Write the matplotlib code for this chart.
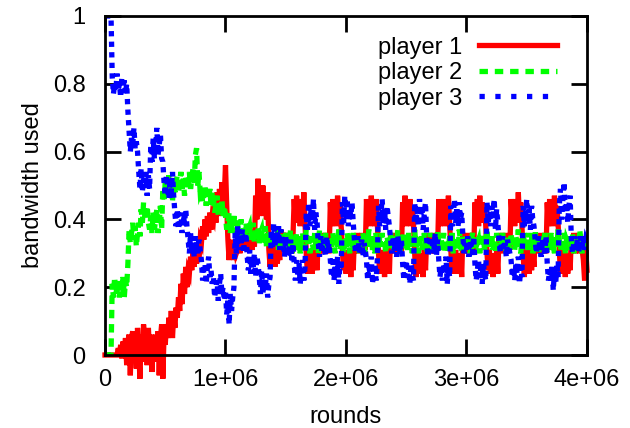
import numpy as np
import matplotlib
matplotlib.use("Agg")
import matplotlib.pyplot as plt
from matplotlib.lines import Line2D

plt.rcParams['font.family'] = ['Liberation Sans', 'DejaVu Sans']
plt.rcParams['font.size'] = 17

# one sample every 10000 rounds, 0 .. 4e6 (401 samples)
rounds = np.arange(401) * 10000

# bandwidth share in hundredths, one row per 100000 rounds
player1_pct = """
0 0 0 0 0 0 0 0 0 0
0 2 0 3 -1 4 0 5 -3 4
6 -6 5 7 -2 6 -4 8 1 -7
6 -2 9 0 7 -3 8 1 6 -5
5 -2 6 -1 7 -6 5 9 -7 6
3 9 5 11 6 13 5 12 8 14
11 17 13 21 15 24 18 26 20 25
24 29 25 31 26 32 27 30 28 34
33 38 34 40 35 41 36 42 37 41
40 45 39 48 41 49 42 51 43 47
56 44 34 28 33 29 34 28 33 30
31 36 30 37 31 36 32 37 31 36
32 37 31 36 32 47 40 52 41 48
42 50 41 47 40 48 31 26 33 27
32 26 33 27 31 28 37 31 36 32
36 30 35 31 36 30 35 46 39 47
39 45 38 46 40 48 39 30 24 31
25 30 24 31 26 29 25 36 30 35
31 36 30 35 31 36 30 45 38 46
39 44 38 47 40 45 38 31 25 30
24 31 25 29 23 30 25 35 31 36
30 35 31 36 30 35 31 46 39 45
38 47 40 44 38 46 39 30 24 31
25 29 23 31 26 30 24 36 30 35
31 36 30 35 31 36 30 45 39 47
38 45 40 46 38 44 39 30 23 31
25 30 24 29 23 31 25 35 31 36
30 35 31 36 30 35 31 46 38 45
39 46 38 44 40 47 39 31 24 30
25 31 24 29 26 30 23 36 30 35
31 36 30 35 31 36 30 45 39 46
38 47 39 45 40 44 38 30 25 31
24 30 23 29 25 31 24 35 31 36
30 35 31 36 30 35 31 46 40 45
38 46 39 48 40 45 38 30 23 31
25 29 24 31 25 30 26 36 30 35
31 36 30 35 31 36 30 45 38 46
39 45 38 47 40 44 39 31 24 30
25 31 23 30 24 29 25 35 31 36
30 35 31 36 30 35 31 28 22 31
25
"""

player2_pct = """
0 0 0 0 0 0 21 17 23 18
20 22 17 21 19 23 17 22 20 27
37 33 36 39 34 38 32 36 39 35
43 39 45 41 40 44 39 37 41 36
42 37 40 43 36 39 44 37 49 46
51 46 49 53 47 50 45 52 48 51
53 48 51 54 49 52 47 53 50 49
54 49 52 55 50 59 61 50 54 48
49 45 47 50 44 48 46 49 44 48
46 42 44 47 41 45 43 46 41 44
41 37 39 42 36 40 38 41 36 39
39 35 37 40 34 38 36 39 34 37
38 34 36 39 33 37 35 38 33 36
37 33 35 38 32 36 34 37 32 35
36 32 34 37 31 35 33 36 31 34
36 31 34 32 37 30 35 33 31 36
32 35 30 34 36 31 33 37 32 34
30 35 33 31 36 32 34 30 37 33
35 31 33 36 30 34 32 35 31 36
33 30 35 32 37 31 34 33 30 35
31 36 33 30 35 32 36 31 34 32
35 30 34 32 36 33 30 35 32 37
32 35 31 34 30 36 33 31 35 32
36 32 34 30 35 33 31 36 32 34
31 35 33 37 32 30 34 32 36 31
34 31 36 32 35 30 33 37 32 35
30 34 32 35 31 36 33 30 34 32
36 31 33 30 35 32 37 33 31 34
32 36 30 34 33 31 35 32 36 30
35 32 34 31 37 33 30 35 32 34
31 35 33 30 34 36 32 31 35 33
34 30 36 32 35 31 34 37 32 35
32 35 31 34 30 36 33 31 35 32
36 32 34 30 35 33 31 36 32 34
31 35 33 37 32 30 34 32 36 31
34 31 36 32 35 30 33 37 32 35
30 34 32 35 31 36 33 30 34 32
36 31 33 30 35 32 37 33 31 34
32 36 30 34 33 31 35 32 36 30
35 32 34 31 37 33 30 35 32 34
33
"""

player3_pct = """
100 100 100 100 100 100 82 77 80 78
83 78 80 76 82 79 81 77 80 72
66 60 64 62 67 61 63 60 54 49
55 48 52 50 54 47 53 49 62 57
64 58 61 67 59 62 65 58 57 51
47 53 49 46 52 48 54 47 42 38
43 37 40 42 36 41 39 43 38 34
30 36 31 33 29 35 32 30 34 31
28 22 25 27 21 26 29 23 25 21
23 17 20 22 16 21 24 18 20 16
19 12 16 9 18 13 17 20 36 30
38 31 35 33 37 30 34 36 29 25
31 24 28 26 30 23 29 27 23 18
25 18 22 20 24 17 21 23 37 32
39 32 36 34 38 31 37 33 33 29
35 29 32 31 34 28 33 27 22 28
23 27 21 25 28 22 26 42 37 45
38 43 40 46 37 42 39 33 29 35
30 34 32 29 35 31 33 28 23 29
22 26 24 29 21 27 25 45 39 47
40 46 38 43 41 45 39 34 30 33
35 30 32 34 29 33 31 28 22 26
24 29 21 25 27 22 28 44 38 42
46 39 43 37 44 41 38 34 30 35
31 33 29 35 32 30 34 27 22 25
28 23 26 21 27 24 22 45 39 43
38 46 41 44 37 42 45 34 29 32
35 30 33 31 36 29 34 28 23 26
22 27 24 29 21 26 23 44 38 41
46 39 43 38 45 40 42 35 30 33
31 35 29 34 32 30 35 27 22 25
28 23 26 21 27 24 22 45 39 42
38 44 41 46 37 43 39 34 30 33
35 31 33 29 34 32 30 28 23 26
22 27 24 29 21 26 23 44 38 41
46 39 43 37 44 40 38 34 30 33
35 31 29 34 32 30 35 27 22 25
22 26 19 25 21 27 23 44 49 40
46 51 42 45 39 44 47 34 30 33
35 31 34 30 33 35 31 35 31 34
33
"""

player1 = np.array(player1_pct.split(), dtype=float) / 100
player2 = np.array(player2_pct.split(), dtype=float) / 100
player3 = np.array(player3_pct.split(), dtype=float) / 100

labels = ['player 1', 'player 2', 'player 3']
colors = ['#ff0000', '#00ff00', '#0000ff']

xticks = [0, 1e6, 2e6, 3e6, 4e6]
xticklabels = ['0', '1e+06', '2e+06', '3e+06', '4e+06']
yticks = [0, 0.2, 0.4, 0.6, 0.8, 1]
yticklabels = ['0', '0.2', '0.4', '0.6', '0.8', '1']

fig = plt.figure(figsize=(6.3, 4.28), dpi=100)
ax = fig.add_axes([105 / 630, 1 - 355 / 428, 482 / 630, 339 / 428])

lw = 3.8
style = dict(lw=lw, solid_joinstyle='miter', dash_joinstyle='miter')
ax.plot(rounds, player1, color=colors[0], ls='-', clip_on=False, **style)
ax.plot(rounds, player2, color=colors[1], ls=(0, (1.6, 1.1)), **style)
# dense noisy data: tighter dots so the blocks fill in like the original
ax.plot(rounds, player3, color=colors[2], ls=(0, (1, 1.0)), **style)

ax.set_xlim(0, 4e6)
ax.set_ylim(0, 1)
ax.set_xticks(xticks)
ax.set_xticklabels(xticklabels)
ax.set_yticks(yticks)
ax.set_yticklabels(yticklabels)
ax.tick_params(direction='in', length=11.5, width=2, top=True, right=True)
ax.tick_params(axis='y', pad=14)
ax.tick_params(axis='x', pad=10)
for s in ax.spines.values():
    s.set_linewidth(2)
    s.set_zorder(5)
ax.set_xlabel('rounds', labelpad=11)
ax.set_ylabel('bandwidth used', labelpad=6)

handles = [Line2D([], [], color=colors[0], lw=lw, ls='-'),
           Line2D([], [], color=colors[1], lw=lw, ls=(0, (1.6, 1.3))),
           Line2D([], [], color=colors[2], lw=lw, ls=(0, (1, 2)))]
ax.legend(handles, labels, loc='upper right', bbox_to_anchor=(0.938, 0.939),
          frameon=False, markerfirst=False, handlelength=3.3, handletextpad=0.7,
          labelspacing=0.15, borderpad=0, borderaxespad=0)

fig.savefig('out.png', dpi=100)
